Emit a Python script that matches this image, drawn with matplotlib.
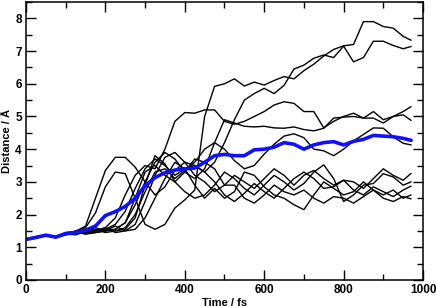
import numpy as np
import matplotlib
matplotlib.use("Agg")
import matplotlib.pyplot as plt
from matplotlib.ticker import MultipleLocator

plt.rcParams["font.family"] = ["Liberation Sans", "DejaVu Sans"]

# time axis (fs)
time_fs = [0, 25, 50, 75, 100, 125, 150, 175, 200, 225, 250, 275, 300, 325,
           350, 375, 400, 425, 450, 475, 500, 525, 550, 575, 600, 625, 650,
           675, 700, 725, 750, 775, 800, 825, 850, 875, 900, 925, 950, 970]

# individual trajectories (Angstrom)
traj_a = [1.26, 1.33, 1.35, 1.30, 1.40, 1.50, 1.60, 2.05, 2.85, 3.30, 3.25, 2.50,
          1.70, 1.55, 1.70, 2.20, 2.45, 2.75, 5.00, 5.92, 6.00, 6.15, 5.93, 6.05,
          5.96, 6.10, 6.22, 6.15, 6.40, 6.60, 6.85, 7.05, 7.16, 7.20, 7.90, 7.90,
          7.75, 7.70, 7.45, 7.33]
traj_b = [1.25, 1.31, 1.36, 1.29, 1.38, 1.42, 1.45, 1.50, 1.55, 1.70, 2.10, 2.80,
          3.40, 3.70, 3.50, 3.20, 3.40, 3.50, 3.30, 3.60, 4.20, 4.90, 5.50, 5.70,
          5.86, 5.70, 5.95, 6.45, 6.57, 6.78, 6.88, 6.80, 7.15, 6.67, 6.80, 7.30,
          7.30, 7.17, 7.07, 7.14]
traj_c = [1.23, 1.30, 1.39, 1.32, 1.41, 1.38, 1.48, 1.50, 1.60, 1.90, 2.60, 3.20,
          3.50, 3.40, 4.00, 4.85, 5.12, 5.10, 5.20, 5.20, 4.85, 4.76, 4.85, 5.00,
          5.15, 5.35, 5.45, 5.40, 5.15, 5.15, 4.65, 4.85, 5.00, 5.10, 4.95, 5.15,
          4.90, 5.00, 5.15, 5.30]
traj_d = [1.26, 1.29, 1.35, 1.34, 1.43, 1.47, 1.40, 1.45, 1.50, 1.55, 1.75, 2.30,
          3.00, 3.60, 3.90, 3.70, 3.30, 3.10, 3.40, 4.20, 4.90, 4.80, 4.70, 4.68,
          4.70, 4.65, 4.64, 4.68, 4.60, 4.56, 4.64, 4.95, 4.98, 5.00, 4.95, 4.95,
          4.80, 5.00, 5.05, 4.88]
traj_e = [1.24, 1.32, 1.37, 1.30, 1.40, 1.44, 1.50, 1.50, 1.55, 1.50, 1.60, 2.00,
          2.70, 3.30, 3.40, 3.10, 3.35, 3.60, 4.00, 4.20, 4.00, 3.65, 3.40, 3.50,
          3.85, 4.15, 4.40, 4.47, 4.35, 4.00, 3.95, 3.80, 4.00, 4.25, 4.45, 4.65,
          4.64, 4.38, 4.18, 4.13]
traj_f = [1.25, 1.30, 1.36, 1.33, 1.39, 1.46, 1.42, 1.45, 1.50, 1.65, 1.50, 1.70,
          2.40, 3.20, 3.75, 3.90, 3.60, 3.20, 3.00, 2.70, 2.90, 3.20, 3.00, 2.80,
          3.10, 3.40, 3.20, 2.90, 3.20, 3.35, 3.10, 2.90, 3.05, 3.00, 2.80, 3.10,
          3.40, 3.20, 3.05, 3.26]
traj_g = [1.23, 1.31, 1.38, 1.31, 1.44, 1.43, 1.52, 1.55, 1.45, 1.50, 1.55, 1.90,
          2.90, 3.80, 3.55, 3.00, 2.70, 2.50, 2.60, 2.90, 3.30, 3.10, 2.80, 2.60,
          2.90, 3.20, 3.00, 2.75, 2.95, 3.30, 3.52, 3.10, 2.40, 2.60, 2.90, 2.95,
          3.25, 3.15, 2.90, 3.00]
traj_h = [1.24, 1.28, 1.38, 1.33, 1.45, 1.48, 1.65, 2.50, 3.35, 3.75, 3.75, 3.45,
          3.00, 2.60, 2.85, 3.35, 3.60, 3.50, 3.30, 3.00, 2.60, 2.40, 2.65, 2.95,
          2.70, 2.50, 2.80, 3.10, 3.30, 3.10, 2.80, 2.85, 3.05, 2.75, 2.60, 2.85,
          2.70, 2.55, 2.75, 2.87]
traj_i = [1.26, 1.29, 1.37, 1.32, 1.42, 1.49, 1.45, 1.50, 1.60, 1.45, 1.50, 1.55,
          1.90, 2.50, 3.10, 3.60, 3.40, 2.90, 2.50, 2.80, 2.50, 2.70, 3.30, 3.20,
          2.85, 2.60, 2.50, 2.30, 2.15, 2.60, 3.00, 2.80, 2.60, 2.70, 3.00, 2.75,
          2.60, 2.75, 2.50, 2.60]
traj_j = [1.24, 1.31, 1.36, 1.30, 1.41, 1.45, 1.55, 1.60, 1.50, 1.55, 1.75, 2.50,
          3.30, 3.50, 3.20, 3.00, 3.30, 3.70, 3.60, 3.40, 2.90, 2.90, 2.50, 2.35,
          2.60, 2.90, 2.70, 2.60, 2.75, 2.50, 2.35, 2.55, 2.50, 2.35, 2.55, 2.75,
          2.50, 2.40, 2.55, 2.48]

# average over trajectories (blue)
mean_dist = [1.24, 1.30, 1.37, 1.31, 1.42, 1.45, 1.52, 1.65, 1.97, 2.09, 2.25, 2.50,
             2.88, 3.13, 3.28, 3.36, 3.40, 3.42, 3.60, 3.80, 3.84, 3.80, 3.80, 3.98,
             4.00, 4.06, 4.20, 4.15, 4.00, 4.13, 4.20, 4.23, 4.13, 4.24, 4.30, 4.42,
             4.40, 4.38, 4.33, 4.27]

trajectories = [traj_a, traj_b, traj_c, traj_d, traj_e,
                traj_f, traj_g, traj_h, traj_i, traj_j]

fig = plt.figure(figsize=(4.36, 3.06), dpi=100)
ax = fig.add_axes([0.0596, 0.085, 0.9106, 0.9085])

for traj in trajectories:
    ax.plot(time_fs, traj, color="black", lw=1.0,
            solid_joinstyle="round", solid_capstyle="round")
ax.plot(time_fs, mean_dist, color="#1010ff", lw=2.6,
        solid_joinstyle="round", solid_capstyle="round")

ax.set_xlim(0, 1000)
ax.set_ylim(0, 8.5)
ax.xaxis.set_major_locator(MultipleLocator(200))
ax.xaxis.set_minor_locator(MultipleLocator(100))
ax.yaxis.set_major_locator(MultipleLocator(1))
ax.yaxis.set_minor_locator(MultipleLocator(0.5))
ax.tick_params(which="both", direction="in", top=True, right=True,
               width=1.0, labelsize=8.5, pad=3)
ax.tick_params(which="major", length=7)
ax.tick_params(which="minor", length=4)
for lab in ax.get_xticklabels() + ax.get_yticklabels():
    lab.set_fontweight("bold")
for sp in ax.spines.values():
    sp.set_linewidth(1.1)

ax.set_xlabel("Time / fs", fontsize=8, fontweight="bold", labelpad=1)
ax.set_ylabel("Distance / Å", fontsize=8, fontweight="bold", labelpad=2)

fig.savefig("out.png", dpi=100)
